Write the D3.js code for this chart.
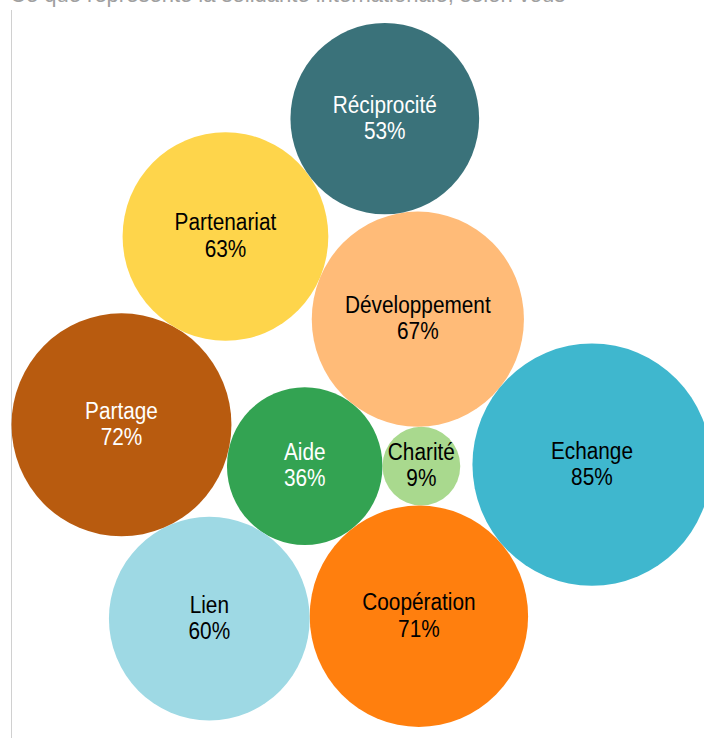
<!DOCTYPE html>
<html>
<head>
<meta charset="utf-8">
<script src="https://cdn.jsdelivr.net/npm/d3@7"></script>
<style>
  html, body { margin: 0; padding: 0; background: #fff; overflow: hidden; }
  svg { display: block; }
</style>
</head>
<body>
<svg id="chart" width="704" height="738"></svg>
<script>
// ---- Data ----
const categories = ["Aide", "Charité", "Coopération", "Développement", "Echange", "Lien", "Partage", "Partenariat", "Réciprocité"];
const values     = [36, 9, 71, 67, 85, 60, 72, 63, 53];
const fillColors = ["#33a352", "#a9d98e", "#ff7f0e", "#ffbb78", "#3fb7ce", "#9ed9e4", "#b85b0f", "#fed54b", "#3a727a"];
const textColors = ["#ffffff", "#000000", "#000000", "#000000", "#000000", "#000000", "#ffffff", "#000000", "#ffffff"];
const titleText  = "Ce que représente la solidarité internationale, selon vous";

// ---- Packing order: each bubble is laid tangent to two earlier bubbles ----
const packAnchorA = [null, null, "Aide", "Aide", "Développement", "Aide", "Aide", "Partage", "Partenariat"];
const packAnchorB = [null, null, "Charité", "Charité", "Coopération", "Coopération", "Lien", "Développement", "Développement"];
const packSide    = [0, 0, 1, -1, -1, 1, 1, -1, -1];

const W = 704, H = 738;
const svg = d3.select("#chart");

// partially visible title above the frame
svg.append("text")
  .attr("x", 10).attr("y", 1.5)
  .attr("font-family", "Liberation Sans, Arial, Helvetica, sans-serif")
  .attr("font-size", 22)
  .attr("fill", "#a0a0a0")
  .text(titleText);

// left frame line
svg.append("line")
  .attr("x1", 11.5).attr("x2", 11.5)
  .attr("y1", 10).attr("y2", H)
  .attr("stroke", "#d0d0d0").attr("stroke-width", 1);

const rScale = d3.scaleSqrt().domain([0, 100]).range([0, 129.6]);
const pad = 0;
const yStretch = 1.014;

const nodes = categories.map((c, i) => ({
  name: c, value: values[i], fill: fillColors[i], tc: textColors[i], r: rScale(values[i])
}));
const byName = new Map(nodes.map(d => [d.name, d]));

// first two bubbles side by side, touching at the origin
nodes[0].x = -nodes[0].r; nodes[0].y = 0;
nodes[1].x = nodes[1].r + pad; nodes[1].y = 0;

function placeTangent(a, b, c, side) {
  const dx = b.x - a.x, dy = b.y - a.y;
  const d = Math.hypot(dx, dy);
  const ra = a.r + c.r + pad, rb = b.r + c.r + pad;
  const t = (d * d + ra * ra - rb * rb) / (2 * d);
  const h = Math.sqrt(Math.max(0, ra * ra - t * t));
  const ux = dx / d, uy = dy / d;
  c.x = a.x + ux * t + side * (-uy) * h;
  c.y = a.y + uy * t + side * (ux) * h;
}
for (let i = 2; i < nodes.length; i++) {
  placeTangent(byName.get(packAnchorA[i]), byName.get(packAnchorB[i]), nodes[i], packSide[i]);
}

// place the packed group: left edge on the frame line, vertically centred in the view
const minX = d3.min(nodes, d => d.x - d.r);
const minY = d3.min(nodes, d => d.y - d.r);
const maxY = d3.max(nodes, d => d.y + d.r);
const offX = 11.5 - minX;
const offY = (23 + 727) / 2 - yStretch * (minY + maxY) / 2;

const g = svg.append("g").attr("transform", `translate(${offX},${offY}) scale(1,${yStretch})`);

const node = g.selectAll("g.node")
  .data(nodes)
  .join("g")
  .attr("class", "node")
  .attr("transform", d => `translate(${d.x},${d.y})`);

node.append("circle")
  .attr("r", d => d.r)
  .attr("fill", d => d.fill);

const label = node.append("text")
  .attr("text-anchor", "middle")
  .attr("transform", "scale(0.885,1)")
  .attr("font-family", "Liberation Sans, Arial, Helvetica, sans-serif")
  .attr("font-size", 23.5)
  .attr("fill", d => d.tc);

label.append("tspan").attr("x", 0).attr("y", -6).text(d => d.name);
label.append("tspan").attr("x", 0).attr("y", 20).text(d => d.value + "%");
</script>
</body>
</html>
